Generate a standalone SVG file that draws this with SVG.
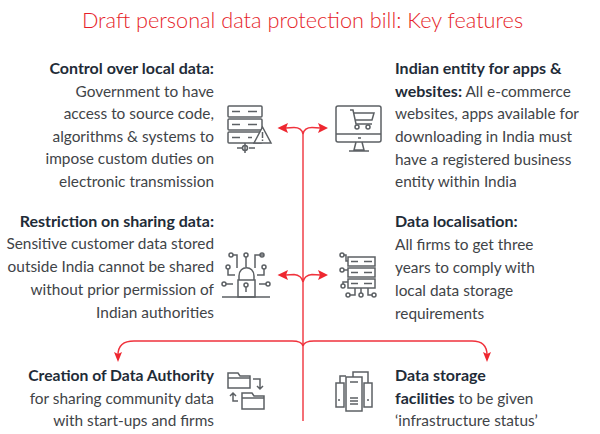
<svg xmlns="http://www.w3.org/2000/svg" width="600" height="434" viewBox="0 0 600 434">
<style>
text{font-family:Lato,"Open Sans",sans-serif;font-size:15.4px;fill:#3f4448}
.l{text-anchor:end}
.b{font-weight:700;fill:#1f2c38;font-size:16px}
.title{font-size:21.7px;fill:#e61e2a;text-anchor:middle;font-weight:300}
.con{fill:none;stroke:#f0323c;stroke-width:1.4}
.ah{fill:#ee2730;stroke:none}
.ic{fill:none;stroke:#5c6064;stroke-width:1.5}
</style>
<rect width="600" height="434" fill="#fff"/>
<text class="title" x="302.500" y="28">Draft personal data protection bill: Key features</text>
<g id="connectors">
<path class="con" d="M303 134V421"/>
<path class="con" d="M303 134C302 129 299 127.500 294 127.500C291 127.500 288 128 282 128"/>
<path class="con" d="M303 134C304 129 307 127.500 312 127.500C315 127.500 318 128 324 128"/>
<path class="con" d="M303 282C302 277 299 275 294 274.500C291 274.500 288 275 282 275"/>
<path class="con" d="M303 282C304 277 307 275 312 274.500C315 274.500 318 275 324 275"/>
<path class="con" d="M303 346C302 342 298 341 292 341H134C124 341 118 345 118 355"/>
<path class="con" d="M303 346C304 342 308 341 314 341H472C482 341 487 345 487 355"/>
<path class="ah" d="M277.500 128L288 123L286 128L288 133Z"/>
<path class="ah" d="M328 128L318 123L320 128L318 133Z"/>
<path class="ah" d="M277.500 275L288 270L286 275L288 280Z"/>
<path class="ah" d="M328 275L318 270L320 275L318 280Z"/>
<path class="ah" d="M118 362L114 352L118 354L122 352Z"/>
<path class="ah" d="M487 362L483 352L487 354L491 352Z"/>
</g>
<g id="node-control">
<text class="l" x="214" y="74"><tspan class="b">Control over local data:</tspan></text>
<text class="l" x="214" y="97">Government to have</text>
<text class="l" x="214" y="119">access to source code,</text>
<text class="l" x="214" y="142">algorithms &amp; systems to</text>
<text class="l" x="214" y="164">impose custom duties on</text>
<text class="l" x="214" y="187">electronic transmission</text>
<g class="ic">
<rect x="228" y="106" width="34" height="11" rx="1"/><rect x="228" y="119" width="34" height="11" rx="1"/><rect x="228" y="132" width="34" height="11" rx="1"/>
<path d="M232 111.500h8M232 124.500h8M232 137.500h8M248 111.500h9M248 124.500h9M248 137.500h4M245 143v10M237 148h5M249 148h6"/><circle cx="245" cy="148" r="2.500"/>
<path d="M262.500 127L254 143H271Z" fill="#fff"/><path d="M262.500 132v6M262.500 139.500v1.500"/>
</g>
</g>
<g id="node-indian-entity">
<text x="395" y="74"><tspan class="b">Indian entity for apps &amp;</tspan></text>
<text x="395" y="97"><tspan class="b">websites:</tspan> All e-commerce</text>
<text x="395" y="119">websites, apps available for</text>
<text x="395" y="142">downloading in India must</text>
<text x="395" y="165">have a registered business</text>
<text x="395" y="187">entity within India</text>
<g class="ic">
<rect x="336" y="106" width="45" height="36" rx="2"/><path d="M336 134H381M356 142L354 150H364L362 142M349 151H369M358 138h3"/>
<path d="M350 110H353L356 124H372M354 113H374L372 120H355"/><circle cx="357" cy="127" r="2"/><circle cx="368" cy="127" r="2"/>
</g>
</g>
<g id="node-restriction">
<text class="l" x="214" y="227"><tspan class="b">Restriction on sharing data:</tspan></text>
<text class="l" x="214" y="249">Sensitive customer data stored</text>
<text class="l" x="214" y="272">outside India cannot be shared</text>
<text class="l" x="214" y="295">without prior permission of</text>
<text class="l" x="214" y="318">Indian authorities</text>
<g class="ic">
<rect x="238" y="280" width="17" height="17"/><path d="M239 280V276C239 265 254 265 254 276V280M222 297H270M246 287v5M233 255H237V268M246 257V267M264 255H255V268M228 269V275H235M264 269V275H257M226 284H233M266 284H259"/>
<circle cx="231" cy="255" r="2"/><circle cx="246" cy="255" r="2"/><circle cx="262" cy="255" r="2"/><circle cx="228" cy="267" r="2"/><circle cx="264" cy="267" r="2"/><circle cx="224" cy="284" r="2"/><circle cx="268" cy="284" r="2"/><circle cx="246" cy="285" r="2"/>
</g>
</g>
<g id="node-localisation">
<text x="395" y="227"><tspan class="b">Data localisation:</tspan></text>
<text x="395" y="250">All firms to get three</text>
<text x="395" y="273">years to comply with</text>
<text x="395" y="296">local data storage</text>
<text x="395" y="319">requirements</text>
<g class="ic">
<rect x="348" y="257" width="27" height="9"/><rect x="348" y="268" width="27" height="9"/><rect x="348" y="279" width="27" height="9"/>
<path d="M351 261.500h7M351 272.500h7M351 283.500h7M364 261.500h8M364 272.500h8M364 283.500h8M344 255H346V261H348M344 270H348M343 284V282H348M355 288V295H350M361 288V293M368 288V295H372"/>
<circle cx="342" cy="255" r="2"/><circle cx="342" cy="270" r="2"/><circle cx="343" cy="286" r="2"/><circle cx="348" cy="295" r="2"/><circle cx="361" cy="295" r="2"/><circle cx="374" cy="295" r="2"/>
</g>
</g>
<g id="node-authority">
<text class="l" x="214" y="381"><tspan class="b" style="font-size:15.7px">Creation of Data Authority</tspan></text>
<text class="l" x="214" y="404">for sharing community data</text>
<text class="l" x="214" y="426">with start-ups and firms</text>
<g class="ic">
<path d="M228 388V373H238L240 376H250V388ZM228 378H250"/><path d="M242 409V393H252L254 396H264V409ZM242 398H264"/>
<path d="M253 379H260V389M257 386L260 389L263 386M238 401H233V393M230 396L233 393L236 396"/>
</g>
</g>
<g id="node-storage">
<text x="395" y="381"><tspan class="b">Data storage</tspan></text>
<text x="395" y="404"><tspan class="b">facilities</tspan> to be given</text>
<text x="395" y="426">‘infrastructure status’</text>
<g class="ic">
<rect x="336" y="383" width="8" height="24"/><rect x="364" y="383" width="8" height="24"/><rect x="346" y="377" width="16" height="34"/>
<path d="M340 383V376H346M353 377V372H368V383M350 398h8M350 401h8M350 404h8M350 382h8M339 399v2M368 399v2"/>
</g>
</g>
</svg>
